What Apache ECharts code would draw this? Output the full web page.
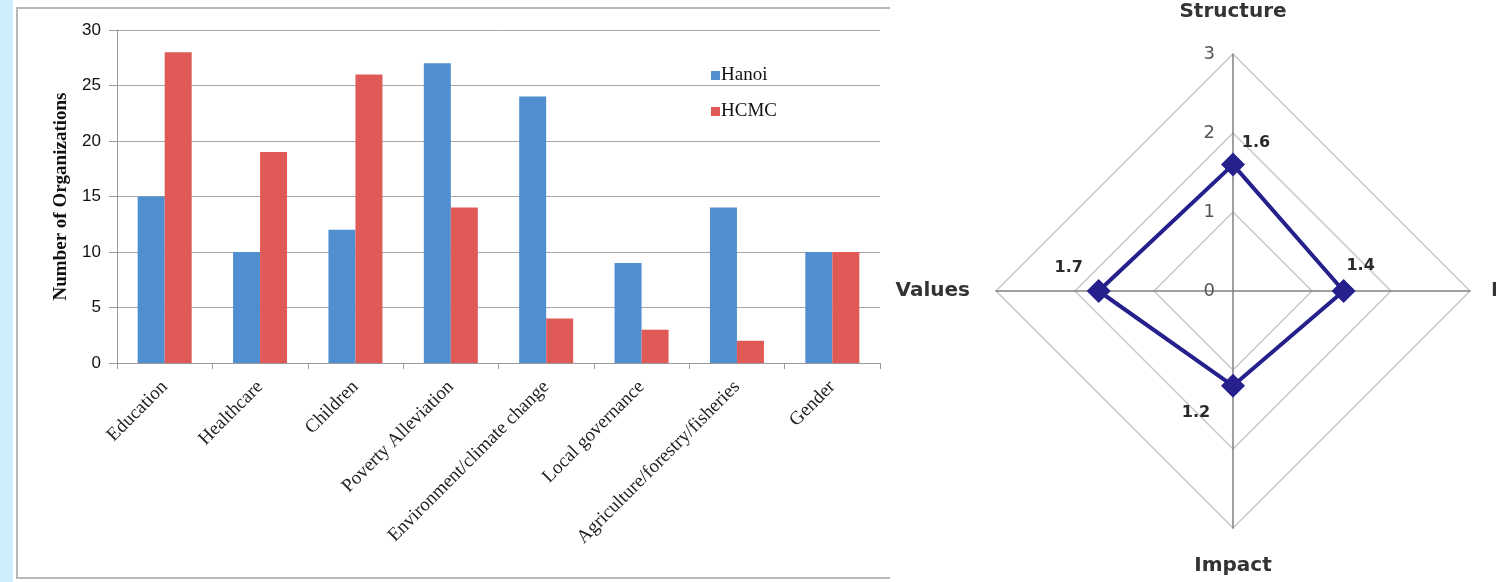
<!DOCTYPE html>
<html>
<head>
<meta charset="utf-8">
<script src="https://cdn.jsdelivr.net/npm/echarts@6/dist/echarts.min.js"></script>
<style>
html,body{margin:0;padding:0;background:#fff;}
#c{width:1496px;height:582px;}
</style>
</head>
<body>
<div id="c"></div>
<script>
const categories = ['Education','Healthcare','Children','Poverty Alleviation','Environment/climate change','Local governance','Agriculture/forestry/fisheries','Gender'];
const hanoi = [15,10,12,27,24,9,14,10];
const hcmc = [28,19,26,14,4,3,2,10];
const seriesNames = ['Hanoi','HCMC'];
const yAxisName = 'Number of Organizations';

const radarAxes = ['Structure','Values','Impact','Environment'];
const radarValues = [1.6,1.7,1.2,1.4];
const radarMax = 3;

const chart = echarts.init(document.getElementById('c'), null, {renderer:'canvas'});

const serif = '"Liberation Serif", "Times New Roman", serif';
const sans = '"DejaVu Sans", Arial, sans-serif';

const labelPads = [[0,0,44,46],[0,60,46,0],[54,74,0,0],[0,0,50,34]];
const rich = {};
labelPads.forEach((p,i)=>{ rich['r'+i] = {padding:p, fontFamily:sans, fontWeight:'bold', fontSize:16, color:'#2a2a2a'}; });

const nameGaps = [32,26,28,21];

chart.setOption({
  animation:false,
  backgroundColor:'#ffffff',
  graphic:[
    {type:'rect', shape:{x:0,y:0,width:13,height:582}, style:{fill:'#cdeefb'}, silent:true},
    {type:'polyline', shape:{points:[[890,8],[17,8],[17,578],[890,578]]}, style:{stroke:'#b8b8b8', lineWidth:2, fill:null}, silent:true}
  ],
  legend:{
    orient:'vertical', left:706, top:61, itemWidth:9, itemHeight:9, itemGap:17,
    icon:'rect',
    textStyle:{fontFamily:serif, fontSize:19, color:'#111', padding:[0,0,0,-4]},
    data:seriesNames
  },
  grid:{left:117, top:30, width:763, height:333, containLabel:false},
  xAxis:{
    type:'category', data:categories,
    axisLine:{lineStyle:{color:'#9a9a9a', width:1}},
    axisTick:{show:true, length:6, lineStyle:{color:'#9a9a9a'}},
    axisLabel:{rotate:45, interval:0, margin:21, fontFamily:serif, fontSize:19, color:'#222'}
  },
  yAxis:{
    type:'value', min:0, max:30, interval:5,
    name:yAxisName, nameLocation:'middle', nameGap:46, nameRotate:90,
    nameTextStyle:{fontFamily:serif, fontWeight:'bold', fontSize:19, color:'#111'},
    axisLine:{show:true, lineStyle:{color:'#9a9a9a'}},
    axisTick:{show:true, length:8, lineStyle:{color:'#9a9a9a'}},
    axisLabel:{margin:16, fontFamily:'"Liberation Sans", Arial, sans-serif', fontSize:17, color:'#111'},
    splitLine:{lineStyle:{color:'#a6a6a6', width:1}}
  },
  radar:{
    center:[1233,291], radius:237, startAngle:90, splitNumber:3, shape:'polygon',
    indicator: radarAxes.map((n,i)=>{
      const o = {name:n, min:0, max:radarMax, nameGap:nameGaps[i]};
      if(i===0){ o.axisLabel = {show:true}; }
      return o;
    }),
    axisName:{fontFamily:sans, fontWeight:'bold', fontSize:20, color:'#333'},
    axisLine:{lineStyle:{color:'#808080', width:1.5}},
    splitLine:{lineStyle:{color:'#c8c8c8', width:1.5}},
    splitArea:{show:false},
    axisTick:{show:false},
    axisLabel:{show:false, margin:18, fontFamily:sans, fontSize:18, color:'#555'}
  },
  series:[
    {name:seriesNames[0], type:'bar', data:hanoi, barWidth:27, barGap:'0%', itemStyle:{color:'#4f8ecf'}},
    {name:seriesNames[1], type:'bar', data:hcmc, barWidth:27, barGap:'0%', itemStyle:{color:'#df5a56'}},
    {
      type:'radar',
      symbol:'diamond', symbolSize:24,
      lineStyle:{color:'#26208c', width:4},
      itemStyle:{color:'#26208c'},
      label:{
        show:true, position:'inside',
        formatter:function(p){
          const i = p.dimensionIndex;
          const v = Array.isArray(p.value) ? p.value[i] : p.value;
          return '{r'+i+'|'+Number(v).toFixed(1)+'}';
        },
        rich:rich
      },
      data:[{value:radarValues, name:'CSI'}]
    }
  ]
});
</script>
</body>
</html>
